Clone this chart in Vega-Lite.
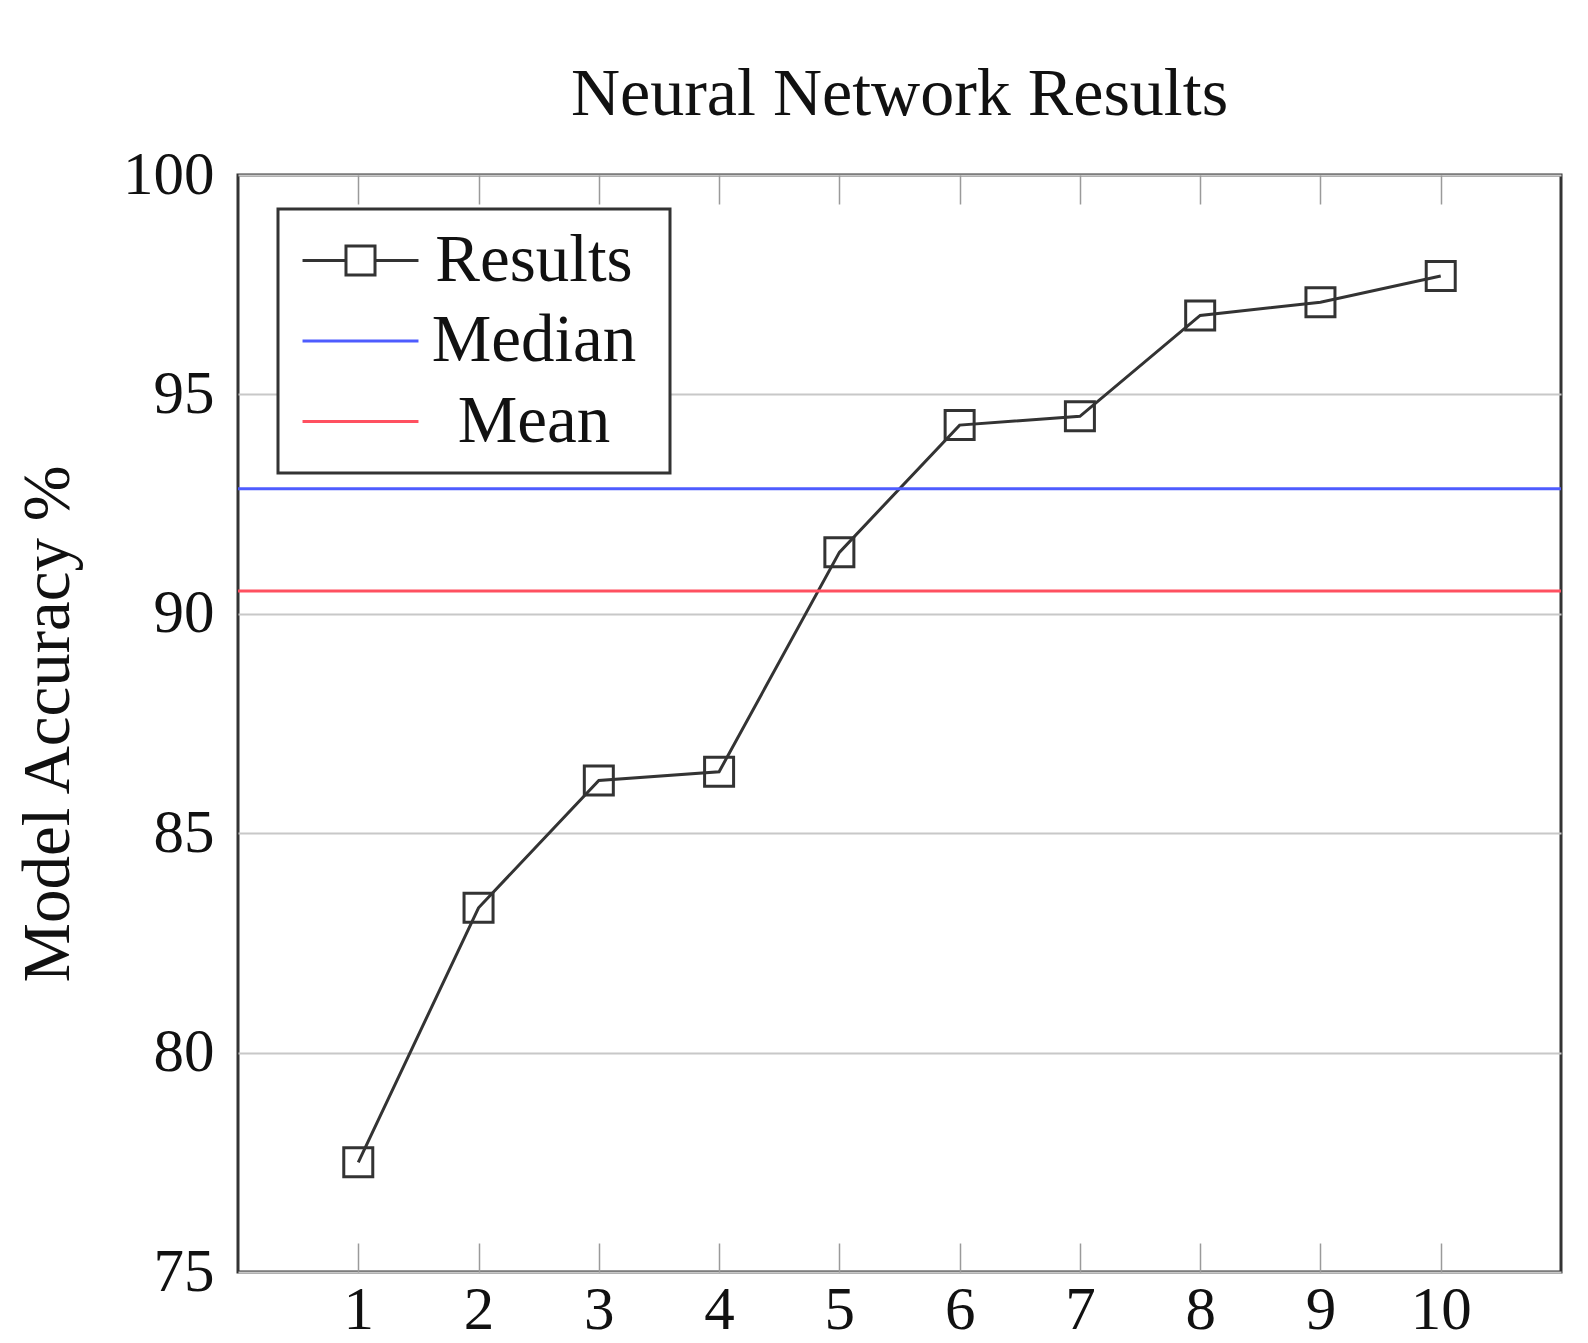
{
  "$schema": "https://vega.github.io/schema/vega-lite/v6.json",
  "width": 1323,
  "height": 1097,
  "autosize": {"type": "none"},
  "padding": {"left": 238, "top": 175, "right": 27, "bottom": 71},
  "background": "white",
  "config": {
    "font": "Liberation Serif",
    "view": {"stroke": "#333333", "strokeWidth": 3},
    "axis": {"domain": false, "labelFont": "Liberation Serif", "titleFont": "Liberation Serif", "labelColor": "#111111", "titleColor": "#111111", "titleFontWeight": "normal"}
  },
  "title": {"text": "Neural Network Results", "fontSize": 68, "fontWeight": "normal", "font": "Liberation Serif", "color": "#111111", "offset": 15, "anchor": "middle"},
  "datasets": {
    "results": [
      {"run": 1, "acc": 77.5, "series": "Results"},
      {"run": 2, "acc": 83.3, "series": "Results"},
      {"run": 3, "acc": 86.2, "series": "Results"},
      {"run": 4, "acc": 86.4, "series": "Results"},
      {"run": 5, "acc": 91.4, "series": "Results"},
      {"run": 6, "acc": 94.3, "series": "Results"},
      {"run": 7, "acc": 94.5, "series": "Results"},
      {"run": 8, "acc": 96.8, "series": "Results"},
      {"run": 9, "acc": 97.1, "series": "Results"},
      {"run": 10, "acc": 97.7, "series": "Results"}
    ],
    "stats": [
      {"series": "Median", "value": 92.85},
      {"series": "Mean", "value": 90.52}
    ]
  },
  "resolve": {"axis": {"x": "independent"}},
  "layer": [
    {
      "data": {"name": "results"},
      "mark": {"type": "line", "strokeWidth": 3},
      "encoding": {
        "x": {"field": "run", "type": "quantitative",
          "scale": {"domain": [0, 11], "nice": false, "zero": false},
          "axis": {"orient": "bottom", "values": [1,2,3,4,5,6,7,8,9,10], "title": null, "tickSize": -29, "tickColor": "#9a9a9a", "tickWidth": 1.5, "labelFontSize": 61, "labelPadding": 37, "grid": false, "format": "d"}},
        "y": {"field": "acc", "type": "quantitative",
          "scale": {"domain": [75, 100], "nice": false, "zero": false},
          "axis": {"values": [75,80,85,90,95,100], "title": "Model Accuracy %", "ticks": false, "grid": true, "gridColor": "#c8c8c8", "gridWidth": 2, "labelFontSize": 61, "labelPadding": 24, "titleFontSize": 67, "titlePadding": 40}},
        "color": {"field": "series", "type": "nominal",
          "scale": {"domain": ["Results", "Median", "Mean"], "range": ["#333333", "#4e5cff", "#ff5060"]},
          "legend": {
            "orient": "none", "legendX": 40, "legendY": 34,
            "title": ".", "titleOrient": "right", "titleColor": "transparent", "titleFontSize": 4, "titlePadding": 15,
            "labelFontSize": 67, "labelFont": "Liberation Serif", "labelColor": "#111111",
            "labelAlign": "center", "labelOffset": 140, "labelLimit": 600,
            "symbolSize": 3844, "symbolOffset": 31, "symbolStrokeWidth": 3,
            "padding": 18, "rowPadding": 12.5,
            "strokeColor": "#333333", "fillColor": "white", "cornerRadius": 0,
            "encode": {
              "legend": {"update": {"strokeWidth": {"value": 3}}},
              "symbols": {"update": {
                "shape": {"signal": "datum.value === 'Results' ? 'M-1.87,0H-0.468M-0.468,-0.468H0.468V0.468H-0.468ZM0.468,0H1.87' : 'M-1.87,0H1.87'"},
                "fill": {"value": "transparent"},
                "strokeWidth": {"value": 3}
              }}
            }
          }}
      }
    },
    {
      "data": {"name": "results"},
      "mark": {"type": "point", "shape": "square", "filled": false, "size": 841, "strokeWidth": 3, "opacity": 1},
      "encoding": {
        "x": {"field": "run", "type": "quantitative",
          "axis": {"orient": "top", "values": [1,2,3,4,5,6,7,8,9,10], "labels": false, "title": null, "tickSize": -29, "tickColor": "#9a9a9a", "tickWidth": 1.5, "grid": false}},
        "y": {"field": "acc", "type": "quantitative",
          "axis": {"values": [75,80,85,90,95,100], "title": "Model Accuracy %", "ticks": false, "grid": true, "gridColor": "#c8c8c8", "gridWidth": 2, "labelFontSize": 61, "labelPadding": 24, "titleFontSize": 67, "titlePadding": 40}},
        "color": {"field": "series", "type": "nominal"}
      }
    },
    {
      "data": {"name": "stats"},
      "mark": {"type": "rule", "strokeWidth": 3},
      "encoding": {
        "y": {"field": "value", "type": "quantitative",
          "axis": {"values": [75,80,85,90,95,100], "title": "Model Accuracy %", "ticks": false, "grid": true, "gridColor": "#c8c8c8", "gridWidth": 2, "labelFontSize": 61, "labelPadding": 24, "titleFontSize": 67, "titlePadding": 40}},
        "color": {"field": "series", "type": "nominal"}
      }
    }
  ]
}
